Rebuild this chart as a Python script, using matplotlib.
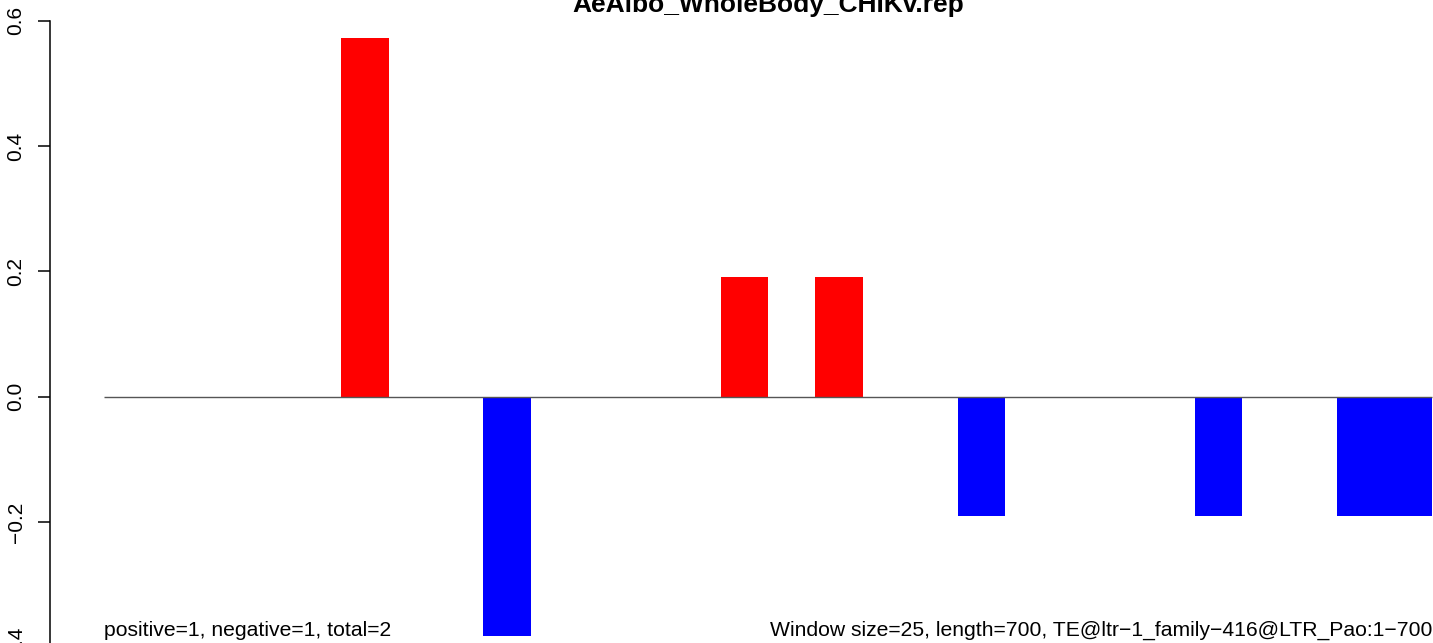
import matplotlib.pyplot as plt

plt.rcParams['font.family'] = ['Liberation Sans', 'DejaVu Sans']

# 28 windows of 25 bp over a 700 bp element
bins = list(range(28))
values = [0, 0, 0, 0, 0, 0.573, 0, 0, -0.382, 0, 0, 0, 0, 0.191, 0, 0.191,
          0, 0, -0.191, 0, 0, 0, 0, -0.191, 0, 0, -0.191, -0.191]
colors = ['red' if v > 0 else 'blue' for v in values]
yticks = [-0.4, -0.2, 0.0, 0.2, 0.4, 0.6]

W, H = 1433, 643
fig = plt.figure(figsize=(W / 100, H / 100), dpi=100)

bw = 1328 / 28  # pixels per bin
ax_left, ax_right = 50, 1433
top_px, bot_px = 20.7, 647.4
ax = fig.add_axes([ax_left / W, (H - bot_px) / H, (ax_right - ax_left) / W, (bot_px - top_px) / H])
ax.set_xlim(-(104 - ax_left) / bw, 28 + 1 / bw)
ax.set_ylim(-0.4, 0.6)

ax.bar(bins, values, width=1.0, align='edge', color=colors, linewidth=0)
ax.hlines(0, 0, 28, color='#555555', linewidth=1)

for s in ['top', 'right', 'bottom']:
    ax.spines[s].set_visible(False)
ax.spines['left'].set_bounds(-0.4, 0.6)
ax.spines['left'].set_linewidth(1.1)
ax.set_xticks([])
ax.set_yticks(yticks)
ax.set_yticklabels(['\u22120.4', '\u22120.2', '0.0', '0.2', '0.4', '0.6'],
                   rotation=90, va='center', fontsize=15)
ax.tick_params(axis='y', length=8.6, width=1.1, pad=9)

fig.text(768 / W, (H - 12) / H, 'AeAlbo_WholeBody_CHIKv.rep', fontsize=19,
         fontweight='bold', ha='center', va='baseline')

fig.text(104 / W, (H - 636) / H, 'positive=1, negative=1, total=2', fontsize=15.2,
         ha='left', va='baseline')
fig.text(1432 / W, (H - 636) / H,
         'Window size=25, length=700, TE@ltr\u22121_family\u2212416@LTR_Pao:1\u2212700',
         fontsize=15.2, ha='right', va='baseline')

fig.savefig('out.png', dpi=100)
